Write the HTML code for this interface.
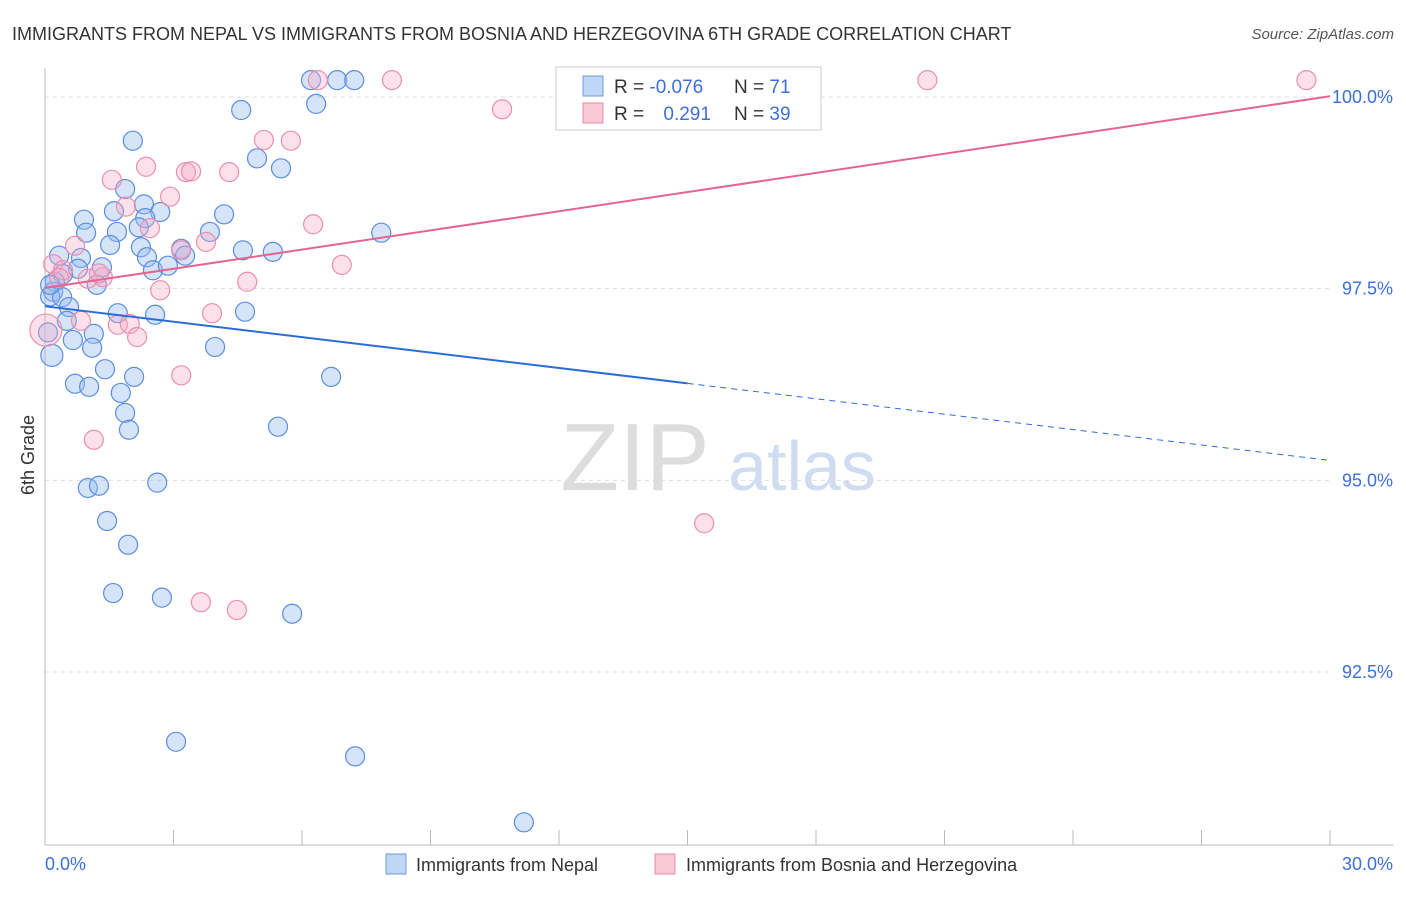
<!DOCTYPE html>
<html><head><meta charset="utf-8"><style>
body{margin:0;background:#fff;font-family:"Liberation Sans",sans-serif}
svg text{font-family:"Liberation Sans",sans-serif}
</style></head><body>
<svg id="chart" width="1406" height="892">
<text x="12" y="40" font-size="18" fill="#333">IMMIGRANTS FROM NEPAL VS IMMIGRANTS FROM BOSNIA AND HERZEGOVINA 6TH GRADE CORRELATION CHART</text>
<text x="1394" y="39" font-size="15" fill="#555" font-style="italic" text-anchor="end">Source: ZipAtlas.com</text>
<g>
<text x="635" y="490" font-size="96" fill="#ddd" font-family="Liberation Serif" text-anchor="middle">ZIP</text>
<text x="802" y="490" font-size="70" fill="#cfdcf2" text-anchor="middle">atlas</text>
</g>
<g id="grid"></g><g id="axes"></g><g id="pts"></g><g id="trend"></g>
<text transform="translate(34,455) rotate(-90)" font-size="18" fill="#333" text-anchor="middle">6th Grade</text>
<text x="45" y="870" font-size="18" fill="#3d6fd8">0.0%</text>
<text x="1393" y="870" font-size="18" fill="#3d6fd8" text-anchor="end">30.0%</text>
<g>
<rect x="556" y="67" width="265" height="63" fill="#fff" stroke="#ccc"/>
<rect x="583" y="76" width="20" height="20" fill="#c0d6f5" stroke="#6a9be0"/>
<rect x="583" y="103" width="20" height="20" fill="#f8c8d6" stroke="#e88aa8"/>
<text x="614" y="93" font-size="19" fill="#333">R = <tspan fill="#3d6fd8">-0.076</tspan></text>
<text x="734" y="93" font-size="19" fill="#333">N = <tspan fill="#3d6fd8">71</tspan></text>
<text x="614" y="120" font-size="19" fill="#333">R = <tspan fill="#3d6fd8" dx="14">0.291</tspan></text>
<text x="734" y="120" font-size="19" fill="#333">N = <tspan fill="#3d6fd8">39</tspan></text>
</g>
<g>
<rect x="386" y="854" width="20" height="20" fill="#c0d6f5" stroke="#6a9be0"/>
<text x="416" y="871" font-size="18" fill="#333">Immigrants from Nepal</text>
<rect x="655" y="854" width="20" height="20" fill="#f8c8d6" stroke="#e88aa8"/>
<text x="686" y="871" font-size="18" fill="#333">Immigrants from Bosnia and Herzegovina</text>
</g>
</svg>
<script>
const nepalX=[6.21,6.82,7.22,6.33,4.58,2.05,4.95,5.51,1.87,2.31,1.61,2.69,4.18,0.91,2.34,2.19,1.68,0.96,3.85,7.85,1.52,2.24,3.18,4.62,5.32,0.33,0.84,2.38,3.27,1.33,0.77,2.52,2.87,0.42,1.21,0.23,0.19,0.12,0.40,0.56,1.70,2.57,4.67,0.51,1.14,0.65,1.10,3.97,0.16,1.40,2.08,6.68,0.70,1.03,1.77,1.87,1.96,5.44,1.00,1.26,2.62,1.45,1.94,1.59,2.73,5.77,3.06,7.24,11.18,0.07,0.12];
const nepalY=[100.22,100.22,100.22,99.91,99.83,99.43,99.20,99.07,98.80,98.60,98.51,98.50,98.47,98.40,98.42,98.30,98.24,98.23,98.24,98.23,98.07,98.04,98.02,98.00,97.98,97.93,97.90,97.91,97.93,97.78,97.76,97.74,97.80,97.69,97.55,97.59,97.46,97.40,97.39,97.26,97.18,97.16,97.20,97.08,96.91,96.83,96.73,96.74,96.63,96.45,96.35,96.35,96.26,96.22,96.14,95.88,95.66,95.70,94.90,94.93,94.97,94.47,94.16,93.53,93.47,93.26,91.59,91.40,90.54,96.93,97.55];
const bosX=[0.02,0.19,0.70,1.56,2.36,3.29,3.41,2.92,4.30,5.11,5.74,6.26,2.45,1.89,3.76,3.18,6.93,1.35,1.00,4.72,2.69,0.84,1.70,1.98,2.15,3.90,3.18,1.14,3.64,4.48,15.39,8.10,6.37,10.67,20.60,29.45,0.42,1.26,0.33];
const bosY=[96.96,97.82,98.06,98.92,99.09,99.02,99.03,98.70,99.02,99.44,99.43,98.34,98.29,98.57,98.11,98.00,97.81,97.65,97.63,97.59,97.48,97.08,97.03,97.04,96.87,97.18,96.37,95.53,93.41,93.31,94.44,100.22,100.22,99.84,100.22,100.22,97.74,97.70,97.64];
const nepalTrend=[97.27,95.26];
const bosTrend=[97.51,100.01];
const yTicks=[100,97.5,95,92.5];
const yTickLabels=["100.0%","97.5%","95.0%","92.5%"];
const xTicks=[0,3,6,9,12,15,18,21,24,27,30];

const NS="http://www.w3.org/2000/svg";
const sx=v=>45+v*1285/30;
const sy=v=>97+(100-v)*76.67;
function mk(tag,parent,attrs){const e=document.createElementNS(NS,tag);for(const k in attrs)e.setAttribute(k,attrs[k]);document.getElementById(parent).appendChild(e);return e;}
yTicks.forEach((t,i)=>{
  const l=mk('line','grid',{x1:45,x2:1330,y1:sy(t),y2:sy(t),stroke:'#ddd','stroke-dasharray':'4,4'});
  
  
  const tx=mk('text','grid',{x:1393,y:sy(t)+6,'font-size':18,fill:'#3d6fd8','text-anchor':'end'});
  tx.textContent=yTickLabels[i];
  
  
});
const ax=mk('line','axes',{x1:45,x2:45,y1:68,y2:845,stroke:'#bbb'});


const bx=mk('line','axes',{x1:45,x2:1393,y1:845,y2:845,stroke:'#bbb'});


xTicks.forEach(t=>{
  const l=mk('line','axes',{x1:sx(t),x2:sx(t),y1:830,y2:845,stroke:'#bbb'});
  
  
});
function dots(X,Y,fill,stroke,name){
  X.forEach((x,i)=>{
    let r=9.5;
    if(name==='nepal-point'&&i===48)r=11;
    if(name==='bosnia-point'&&i===0)r=16;
    const c=mk('circle','pts',{cx:sx(x),cy:sy(Y[i]),r:r,fill:fill,stroke:stroke,'stroke-width':1.2});
    
    
  });
}
dots(nepalX,nepalY,'rgba(150,188,240,0.4)','#5b8ee0','nepal-point');
dots(bosX,bosY,'rgba(245,170,195,0.35)','#ec8fae','bosnia-point');
const t1=mk('line','trend',{x1:sx(0),y1:sy(nepalTrend[0]),x2:sx(15),y2:sy((nepalTrend[0]+nepalTrend[1])/2),stroke:'#2a6dd9','stroke-width':2});


const t2=mk('line','trend',{x1:sx(15),y1:sy((nepalTrend[0]+nepalTrend[1])/2),x2:sx(30),y2:sy(nepalTrend[1]),stroke:'#2a6dd9','stroke-width':1,'stroke-dasharray':'6,5'});


const t3=mk('line','trend',{x1:sx(0),y1:sy(bosTrend[0]),x2:sx(30),y2:sy(bosTrend[1]),stroke:'#e4658f','stroke-width':2});


</script>
</body></html>
